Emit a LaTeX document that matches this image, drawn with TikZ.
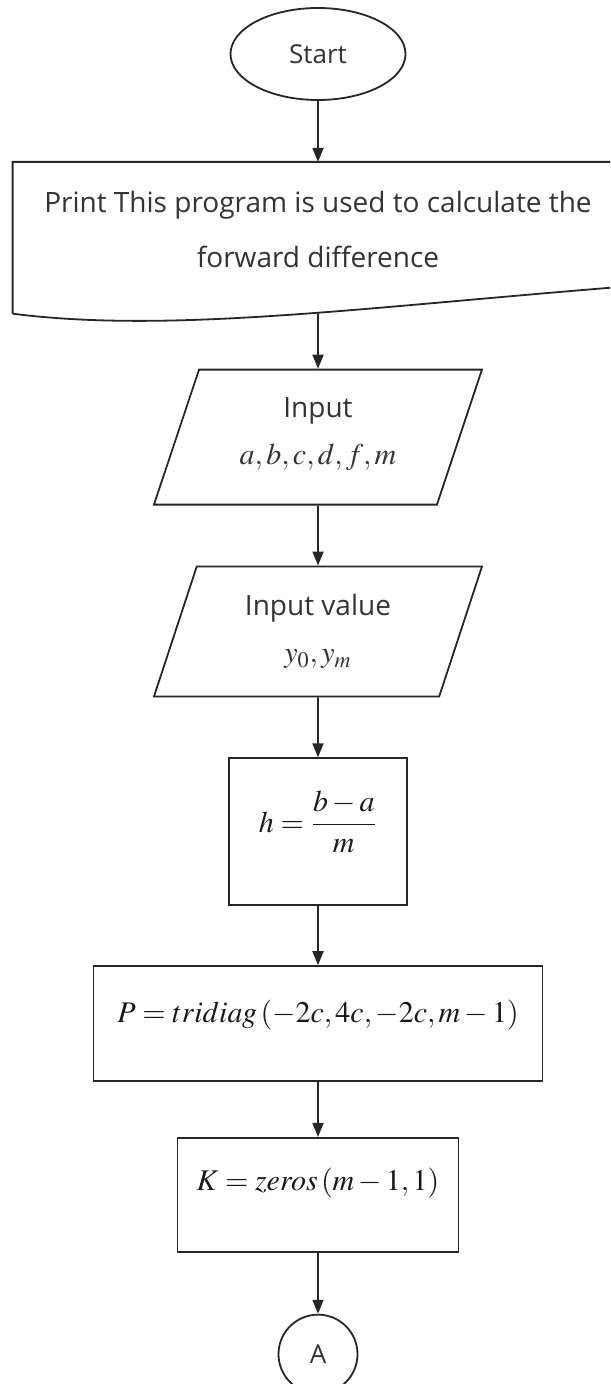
\documentclass[tikz,border=0pt]{standalone}
\usepackage{amsmath}
\usepackage{mathptmx}
\usepackage{fontspec}
\newfontfamily\flowfont{Open Sans}
\usepackage{tikz}
\usetikzlibrary{shapes.geometric, arrows.meta, positioning}
\newcommand{\iomath}[1]{{\fontsize{15}{23.5}\selectfont$#1$}}
\tikzset{
  terminal/.style={ellipse, draw=black!85, line width=0.9pt, minimum width=87.5pt, minimum height=46pt, inner sep=0pt, text=black!80, font=\flowfont\fontsize{13}{15}\selectfont},
  docbox/.style={rectangle, minimum width=305pt, minimum height=75.5pt, inner sep=0pt},
  doctext/.style={align=center, text=black!80, font=\flowfont\fontsize{14}{27.5}\selectfont},
  io/.style={trapezium, trapezium left angle=64, trapezium right angle=116, trapezium stretches body, draw=black!85, line width=0.9pt, minimum width=164pt, align=center, text=black!80, font=\flowfont\fontsize{14}{23.5}\selectfont},
  process/.style={rectangle, draw=black!85, line width=0.9pt, align=center, text=black!90, font=\fontsize{15}{18}\selectfont},
  connector/.style={circle, draw=black!85, line width=0.9pt, minimum size=39.5pt, inner sep=0pt, text=black!80, font=\flowfont\fontsize{13}{15}\selectfont},
  arrow/.style={-{Triangle[length=7pt, width=5.5pt]}, line width=0.9pt, draw=black!85}
}

\begin{document}
\begin{tikzpicture}[x=0.5pt, y=-0.5pt]
  \useasboundingbox (0,0) rectangle (610,1384);
  \clip (0,0) rectangle (610,1384);
  \node[terminal] (start) at (318,54) {Start};
  \node[docbox, below=30.5pt of start] (print) {};
  \node[doctext] (printtext) at ([yshift=4pt]print.center) {Print This program is used to calculate the\\forward difference};
  \node[io, minimum height=67.5pt, text depth=6pt, below=27.5pt of print] (in1) {Input\\\iomath{a,b,c,d,f,m}};
  \node[io, minimum height=65pt, below=30pt of in1] (in2) {Input value\\\iomath{y_0,y_m}};
  \node[process, minimum width=89pt, minimum height=73.5pt, text depth=20pt, below=30pt of in2] (step) {$h=\dfrac{b-a}{m}$};
  \node[process, minimum width=224.5pt, minimum height=57.5pt, text depth=12pt, below=29.5pt of step] (tri) {$P=tridiag\left(-2c,4c,-2c,m-1\right)$};
  \node[process, minimum width=140.5pt, minimum height=57pt, text depth=16pt, below=27.5pt of tri] (zer) {$K=zeros\left(m-1,1\right)$};
  \node[connector, below=30.5pt of zer] (conA) {A};
  \draw[line width=0.9pt, draw=black!85] (print.south west) -- (print.north west) -- (print.north east)
    -- ([yshift=13.5pt]print.south east) .. controls +(-263,21) and +(157,20) .. (print.south west);
  \draw[arrow] (start) -- (print.north);
  \draw[arrow] (print.south) -- (in1);
  \draw[arrow] (in1) -- (in2);
  \draw[arrow] (in2) -- (step);
  \draw[arrow] (step) -- (tri);
  \draw[arrow] (tri) -- (zer);
  \draw[arrow] (zer) -- (conA);
\end{tikzpicture}
\end{document}
